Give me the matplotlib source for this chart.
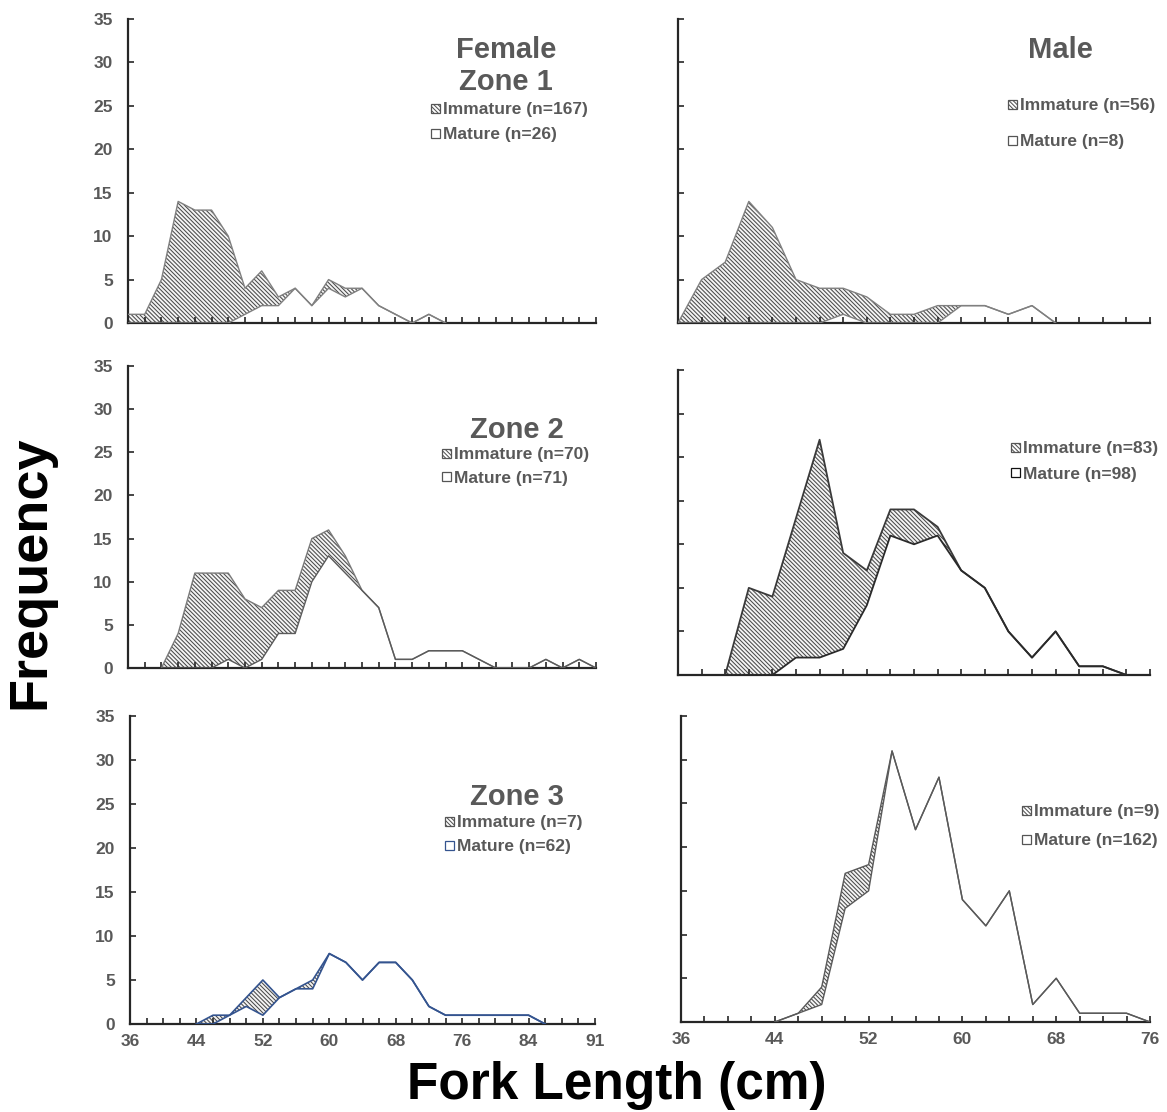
import numpy as np
import matplotlib
matplotlib.use("Agg")
import matplotlib.pyplot as plt
from matplotlib.patches import Rectangle

plt.rcParams['font.family'] = ['Liberation Sans', 'DejaVu Sans']
plt.rcParams['hatch.linewidth'] = 0.75

# ---- fork-length bins (cm) and frequencies per panel ----
# Female, Zone 1
f1_len = np.arange(36, 75, 2)
f1_mature = [0, 0, 0, 0, 0, 0, 0, 1, 2, 2, 4, 2, 4, 3, 4, 2, 1, 0, 1, 0]
f1_immature = [1, 1, 5, 14, 13, 13, 10, 3, 4, 1, 0, 0, 1, 1, 0, 0, 0, 0, 0, 0]

# Male, Zone 1
m1_len = np.arange(36, 69, 2)
m1_mature = [0, 0, 0, 0, 0, 0, 0, 1, 0, 0, 0, 0, 2, 2, 1, 2, 0]
m1_immature = [0, 5, 7, 14, 11, 5, 4, 3, 3, 1, 1, 2, 0, 0, 0, 0, 0]

# Female, Zone 2
f2_len = np.arange(40, 93, 2)
f2_mature = [0, 0, 0, 0, 1, 0, 1, 4, 4, 10, 13, 11, 9, 7, 1, 1, 2, 2, 2, 1,
             0, 0, 0, 1, 0, 1, 0]
f2_immature = [0, 4, 11, 11, 10, 8, 6, 5, 5, 5, 3, 2, 0, 0, 0, 0, 0, 0, 0, 0,
               0, 0, 0, 0, 0, 0, 0]

# Male, Zone 2
m2_len = np.arange(40, 75, 2)
m2_mature = [0, 0, 0, 2, 2, 3, 8, 16, 15, 16, 12, 10, 5, 2, 5, 1, 1, 0]
m2_immature = [0, 10, 9, 16, 25, 11, 4, 3, 4, 1, 0, 0, 0, 0, 0, 0, 0, 0]

# Female, Zone 3
f3_len = np.arange(44, 87, 2)
f3_mature = [0, 0, 1, 2, 1, 3, 4, 4, 8, 7, 5, 7, 7, 5, 2, 1, 1, 1, 1, 1, 1, 0]
f3_immature = [0, 1, 0, 1, 4, 0, 0, 1, 0, 0, 0, 0, 0, 0, 0, 0, 0, 0, 0, 0, 0, 0]

# Male, Zone 3
m3_len = np.arange(44, 77, 2)
m3_mature = [0, 1, 2, 13, 15, 31, 22, 28, 14, 11, 15, 2, 5, 1, 1, 1, 0]
m3_immature = [0, 0, 2, 4, 3, 0, 0, 0, 0, 0, 0, 0, 0, 0, 0, 0, 0]

left_ticks = [36, 44, 52, 60, 68, 76, 84, 92]
left_ticklabels = ['36', '44', '52', '60', '68', '76', '84', '91']
right_ticks = [36, 44, 52, 60, 68, 76]
right_ticklabels = ['36', '44', '52', '60', '68', '76']
y_ticks = [0, 5, 10, 15, 20, 25, 30, 35]

W, H = 1167, 1112
GRAY = '#595959'
HATCH = '\\' * 8

fig = plt.figure(figsize=(W / 100, H / 100), dpi=100)


def px_rect(l, t, r, b):
    return [l / W, 1 - b / H, (r - l) / W, (b - t) / H]


def panel(rect, x, mature, immature, xmax, line_c, mature_c, lw,
          ylabels, xticks, xticklabels, show_xlabels):
    ax = fig.add_axes(px_rect(*rect))
    x = np.asarray(x)
    mat = np.asarray(mature, dtype=float)
    tot = mat + np.asarray(immature, dtype=float)
    ax.fill_between(x, mat, tot, facecolor='#f4f4f4', edgecolor='#4a4a4a',
                    hatch=HATCH, linewidth=0, zorder=1)
    ax.plot(x, tot, color=line_c, lw=lw, zorder=3)
    ax.plot(x, mat, color=mature_c, lw=lw, zorder=3)
    ax.set_xlim(36, xmax)
    ax.set_ylim(0, 35)
    for s in ('top', 'right'):
        ax.spines[s].set_visible(False)
    for s in ('left', 'bottom'):
        ax.spines[s].set_linewidth(1.6)
        ax.spines[s].set_color('#262626')
    ax.set_yticks(y_ticks)
    if ylabels:
        ax.set_yticklabels([str(v) for v in y_ticks])
    else:
        ax.set_yticklabels([])
    ax.set_xticks(xticks)
    ax.set_xticks(np.arange(36, xmax + 1, 2), minor=True)
    if show_xlabels:
        ax.set_xticklabels(xticklabels)
    else:
        ax.set_xticklabels([])
    ax.tick_params(axis='both', which='both', direction='in', length=4,
                   width=1.2, color='#262626', labelsize=12.5,
                   labelcolor=GRAY)
    ax.tick_params(axis='y', pad=11)
    ax.tick_params(axis='x', pad=7)
    for lab in ax.get_xticklabels() + ax.get_yticklabels():
        lab.set_fontweight('bold')
    ax.patch.set_alpha(0)
    return ax


def legend(sq_x, y_imm, y_mat, imm_text, mat_text, mat_edge='#555555'):
    s = 9
    for y, txt, hatch, ec in ((y_imm, imm_text, HATCH, '#555555'),
                              (y_mat, mat_text, None, mat_edge)):
        r = Rectangle((sq_x / W, 1 - (y + s / 2) / H), s / W, s / H,
                      transform=fig.transFigure, facecolor='white',
                      edgecolor=ec, hatch=hatch, linewidth=0.9)
        fig.patches.append(r)
        fig.text((sq_x + s + 3) / W, 1 - y / H, txt, fontsize=12.5,
                 fontweight='bold', color=GRAY, ha='left', va='center_baseline')


def title(cx, base_y, txt):
    fig.text(cx / W, 1 - base_y / H, txt, fontsize=21, fontweight='bold',
             color=GRAY, ha='center', va='baseline')


# Row 1: Zone 1
panel((128, 19, 596, 323), f1_len, f1_mature, f1_immature, 92,
      '#808080', '#808080', 1.0, True, left_ticks, left_ticklabels, False)
panel((678, 19, 1150, 323), m1_len, m1_mature, m1_immature, 76,
      '#808080', '#808080', 1.0, False, right_ticks, right_ticklabels, False)

# Row 2: Zone 2
panel((128, 366, 596, 668), f2_len, f2_mature, f2_immature, 92,
      '#7a7a7a', '#5a5a5a', 1.0, True, left_ticks, left_ticklabels, False)
panel((678, 370, 1150, 675), m2_len, m2_mature, m2_immature, 76,
      '#3a3a3a', '#2a2a2a', 1.3, False, right_ticks, right_ticklabels, False)

# Row 3: Zone 3
panel((130, 716, 595, 1024), f3_len, f3_mature, f3_immature, 92,
      '#34548f', '#34548f', 1.2, True, left_ticks, left_ticklabels, True)
panel((681, 716, 1150, 1022), m3_len, m3_mature, m3_immature, 76,
      '#5a5a5a', '#5a5a5a', 1.0, False, right_ticks, right_ticklabels, True)

# Titles
title(506, 58, 'Female')
title(506, 90, 'Zone 1')
title(1060, 58, 'Male')
title(517, 438, 'Zone 2')
title(517, 805, 'Zone 3')

# Legends
legend(431, 108, 133, 'Immature (n=167)', 'Mature (n=26)')
legend(1008, 104, 140, 'Immature (n=56)', 'Mature (n=8)')
legend(442, 453, 477, 'Immature (n=70)', 'Mature (n=71)')
legend(1011, 447, 473, 'Immature (n=83)', 'Mature (n=98)', '#111111')
legend(445, 821, 845, 'Immature (n=7)', 'Mature (n=62)', '#34548f')
legend(1022, 810, 839, 'Immature (n=9)', 'Mature (n=162)')

# Shared axis labels
fig.text(30 / W, 1 - 572 / H, 'Frequency', rotation=90, fontsize=39,
         fontweight='bold', color='black', ha='center', va='center')
fig.text(617 / W, 1 - 1085 / H, 'Fork Length (cm)', fontsize=37,
         fontweight='bold', color='black', ha='center', va='center')

fig.savefig('out.png', dpi=100, facecolor='white')
